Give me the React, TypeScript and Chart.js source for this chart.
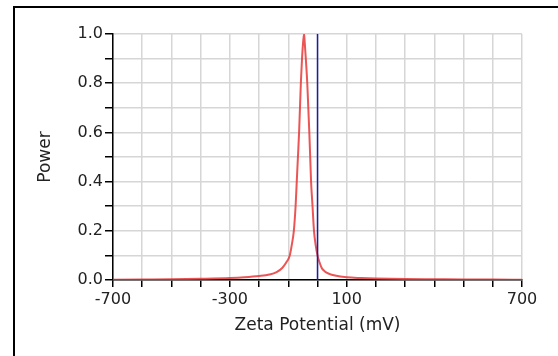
import React, { useEffect, useRef } from "react";
import { Chart, registerables } from "chart.js";

Chart.register(...registerables);

// Red curve: zeta potential distribution
const zetaMv = [
  -700, -600, -500, -400, -300, -250, -200, -165, -140, -120, -105, -95, -87, -81,
  -75, -71, -67, -63, -57, -53, -49, -46, -44, -40, -35, -28, -25, -22, -17, -12,
  -6, 0, 6, 14, 25, 40, 60, 100, 150, 200, 300, 400, 500, 600, 700,
];
const power = [
  0.001, 0.002, 0.003, 0.005, 0.008, 0.011, 0.016, 0.022, 0.032, 0.05, 0.075, 0.1,
  0.15, 0.2, 0.3, 0.4, 0.5, 0.6, 0.8, 0.9, 0.97, 1.0, 0.97, 0.9, 0.8, 0.6, 0.5,
  0.4, 0.3, 0.2, 0.14, 0.1, 0.075, 0.05, 0.035, 0.025, 0.018, 0.011, 0.008, 0.006,
  0.004, 0.003, 0.002, 0.002, 0.001,
];

// Blue marker line
const markerX = [0, 0];
const markerY = [0, 1];

const xLabeled = [-700, -300, 100, 700];
const yLabeled = [0, 0.2, 0.4, 0.6, 0.8, 1.0];

const xTitle = "Zeta Potential (mV)";
const yTitle = "Power";

export default function App() {
  const ref = useRef<HTMLCanvasElement | null>(null);

  useEffect(() => {
    if (!ref.current) return;
    const font = "'DejaVu Sans', sans-serif";
    const chart = new Chart(ref.current, {
      type: "line",
      data: {
        datasets: [
          {
            label: "marker",
            data: markerX.map((x, i) => ({ x, y: markerY[i] })),
            borderColor: "#1c1ca8",
            borderWidth: 1.5,
            pointRadius: 0,
            order: 0,
          },
          {
            label: "power",
            data: zetaMv.map((x, i) => ({ x, y: power[i] })),
            borderColor: "rgba(232,55,55,0.85)",
            borderWidth: 2,
            pointRadius: 0,
            cubicInterpolationMode: "monotone",
            order: 1,
          },
        ],
      },
      options: {
        animation: false,
        responsive: false,
        maintainAspectRatio: false,
        layout: { padding: { left: 35, top: 34, right: 36, bottom: 20 } },
        plugins: { legend: { display: false }, tooltip: { enabled: false } },
        scales: {
          x: {
            type: "linear",
            min: -700,
            max: 700,
            afterFit: (s: any) => {
              s.height = 56;
            },
            border: { color: "#000", width: 1.5 },
            grid: {
              color: "#d6d6d6",
              lineWidth: 1.5,
              tickColor: "#000",
              tickLength: 7,
              tickWidth: 1.5,
            },
            ticks: {
              stepSize: 100,
              autoSkip: false,
              maxRotation: 0,
              padding: 3,
              color: "#222",
              font: { family: font, size: 16 },
              callback: (v: any) =>
                xLabeled.some((t) => Math.abs(t - Number(v)) < 1e-6) ? String(v) : "",
            },
            title: {
              display: true,
              text: xTitle,
              color: "#222",
              padding: 0,
              font: { family: font, size: 17 },
            },
          },
          y: {
            type: "linear",
            min: 0,
            max: 1,
            afterFit: (s: any) => {
              s.width = 78;
            },
            border: { color: "#000", width: 1.5 },
            grid: {
              color: "#d6d6d6",
              lineWidth: 1.5,
              tickColor: "#000",
              tickLength: 8,
              tickWidth: 1.5,
            },
            ticks: {
              stepSize: 0.1,
              autoSkip: false,
              padding: 2,
              color: "#222",
              font: { family: font, size: 16 },
              callback: (v: any) =>
                yLabeled.some((t) => Math.abs(t - Number(v)) < 1e-6)
                  ? Number(v).toFixed(1)
                  : "",
            },
            title: {
              display: true,
              text: yTitle,
              color: "#222",
              padding: 0,
              font: { family: font, size: 17 },
            },
          },
        },
      },
    } as any);
    return () => chart.destroy();
  }, []);

  return (
    <div>
      <div
        style={{
          position: "fixed",
          left: 13,
          top: 6,
          width: 600,
          height: 400,
          borderLeft: "2px solid #000",
          borderTop: "2px solid #000",
          boxSizing: "border-box",
        }}
      />
      <canvas
        ref={ref}
        width={558}
        height={356}
        style={{ position: "fixed", left: 0, top: 0, width: 558, height: 356 }}
      />
    </div>
  );
}
